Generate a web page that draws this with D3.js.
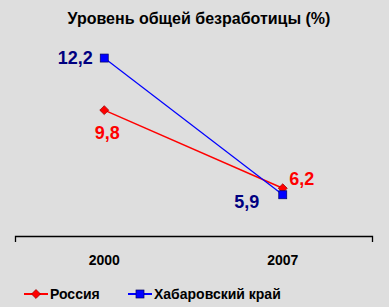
<html>
<head>
<meta charset="utf-8">
<script src="https://d3js.org/d3.v7.min.js"></script>
<style>
body { margin: 0; background: #dedede; }
svg { display: block; font-family: "Liberation Sans", Arial, sans-serif; }
</style>
</head>
<body>
<svg width="389" height="307" class="chart"></svg>
<script>
var years = ["2000", "2007"];
var russia = [9.8, 6.2];
var khabarovsk = [12.2, 5.9];
var seriesNames = ["Россия", "Хабаровский край"];
var labelRussia = ["9,8", "6,2"];
var labelKhab = ["12,2", "5,9"];

var svg = d3.select(".chart");

svg.append("text")
  .attr("x", 199).attr("y", 24)
  .attr("text-anchor", "middle")
  .style("font-weight", "bold").style("font-size", "16px")
  .text("Уровень общей безработицы (%)");

var x = d3.scaleBand().domain(years).range([15, 372]);
var y = d3.scaleLinear().domain([4, 14]).range([236, 19]);

// axis
var ax = svg.append("g")
  .attr("transform", "translate(0,236)")
  .call(d3.axisBottom(x).tickSizeInner(0).tickSizeOuter(6).tickPadding(19));
ax.select(".domain").attr("stroke", "#000").attr("stroke-width", 1.3);
ax.selectAll("text")
  .style("font-family", "Liberation Sans, Arial, sans-serif")
  .style("font-size", "14px").style("font-weight", "bold").attr("fill", "#000");

var cx = function(i) { return x(years[i]) + x.bandwidth() / 2; };
var line = d3.line().x(function(d, i) { return cx(i); }).y(function(d) { return y(d); });

svg.append("path").datum(russia).attr("d", line)
  .attr("fill", "none").attr("stroke", "#ff0000").attr("stroke-width", 1.5);
svg.append("path").datum(khabarovsk).attr("d", line)
  .attr("fill", "none").attr("stroke", "#0000ff").attr("stroke-width", 1.2);

var diamond = d3.symbol().type(d3.symbolSquare).size(40);

svg.selectAll(".rm").data(russia).enter().append("path")
  .attr("d", diamond)
  .attr("transform", function(d, i) { return "translate(" + cx(i) + "," + y(d) + ") rotate(45)"; })
  .attr("fill", "#ff0000").attr("stroke", "#990000").attr("stroke-width", 0.7);

svg.selectAll(".km").data(khabarovsk).enter().append("rect")
  .attr("x", function(d, i) { return cx(i) - 4; })
  .attr("y", function(d) { return y(d) - 4; })
  .attr("width", 8).attr("height", 8)
  .attr("fill", "#0000ff").attr("stroke", "#000066").attr("stroke-width", 0.7);

// data labels
var lab = function(t, px, py, col) {
  svg.append("text").attr("x", px).attr("y", py)
    .attr("text-anchor", "middle")
    .style("font-size", "18px").style("font-weight", "bold")
    .attr("fill", col).text(t);
};
lab(labelKhab[0], cx(0) - 29, y(khabarovsk[0]) + 6, "#000080");
lab(labelRussia[0], cx(0) + 3, y(russia[0]) + 29, "#ff0000");
lab(labelRussia[1], cx(1) + 19, y(russia[1]) - 3, "#ff0000");
lab(labelKhab[1], cx(1) - 36, y(khabarovsk[1]) + 13, "#000080");

// legend
var lg = svg.append("g").attr("transform", "translate(0,294)");
lg.append("line").attr("x1", 24).attr("x2", 48).attr("y1", 0).attr("y2", 0)
  .attr("stroke", "#ff0000").attr("stroke-width", 2);
lg.append("path").attr("d", diamond).attr("transform", "translate(36,0) rotate(45)")
  .attr("fill", "#ff0000").attr("stroke", "#990000").attr("stroke-width", 0.7);
lg.append("text").attr("x", 50).attr("y", 5)
  .style("font-size", "14px").style("font-weight", "bold").text(seriesNames[0]);
lg.append("line").attr("x1", 128).attr("x2", 152).attr("y1", 0).attr("y2", 0)
  .attr("stroke", "#0000ff").attr("stroke-width", 2);
lg.append("rect").attr("x", 136).attr("y", -4).attr("width", 8).attr("height", 8)
  .attr("fill", "#0000ff").attr("stroke", "#000066").attr("stroke-width", 0.7);
lg.append("text").attr("x", 154).attr("y", 5)
  .style("font-size", "14px").style("font-weight", "bold").text(seriesNames[1]);
</script>
</body>
</html>
